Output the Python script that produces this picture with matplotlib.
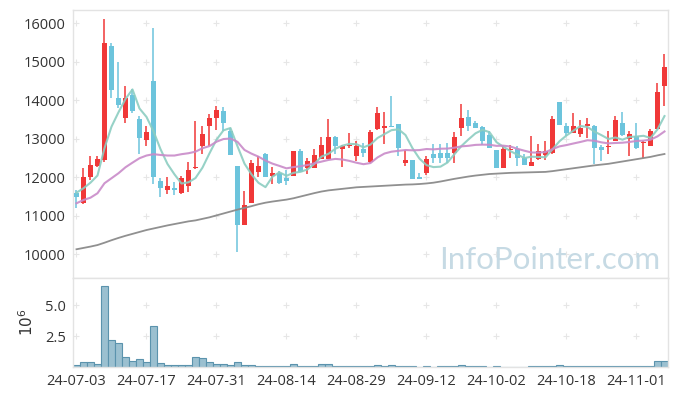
import matplotlib.pyplot as plt
import numpy as np
import pandas as pd

# x axis labels, one every 10 trading days
tick_labels = ['24-07-03', '24-07-17', '24-07-31', '24-08-14', '24-08-29',
               '24-09-12', '24-10-02', '24-10-18', '24-11-01']
tick_step = 10

open_ = [11590, 11340, 12020, 12300, 12450, 15410, 14050, 13550, 14140, 13520,
         12970, 14500, 11900, 11660, 11700, 11590, 11780, 12230, 12820, 13320,
         13550, 13720, 13200, 12300, 10760, 11340, 12150, 12610, 12040, 12120,
         11990, 12040, 12690, 12230, 12250, 12480, 12480, 13050, 12730, 12800,
         12560, 12740, 12400, 13250, 13270, 13330, 13390, 12380, 12440, 12000,
         12100, 12610, 12620, 12620, 12620, 13290, 13570, 13410, 13310, 13100,
         12710, 12230, 12700, 12730, 12510, 12300, 12470, 12590, 12640, 13960,
         13320, 13160, 13120, 13340, 13330, 12790, 12780, 12930, 13400, 12990,
         13070, 12880, 12800, 13250, 14380]
high = [11670, 12230, 12560, 12560, 16100, 15500, 14990, 14380, 14300, 13580,
        13320, 15870, 11990, 12020, 11890, 12040, 12390, 13460, 13320, 13650,
        13850, 13820, 13270, 12300, 11650, 12450, 12560, 12620, 12280, 12170,
        12190, 12690, 12730, 12490, 12730, 13040, 13510, 13070, 12840, 13140,
        12930, 12880, 13230, 13820, 13690, 14120, 13390, 12710, 12450, 12120,
        12560, 12860, 12860, 12880, 13170, 13900, 13750, 13460, 13320, 13190,
        12710, 12800, 12840, 12800, 12600, 13060, 12860, 12930, 13580, 13960,
        13400, 13660, 13490, 13530, 13360, 12840, 13190, 13580, 13690, 13190,
        13400, 12940, 13250, 14460, 15200]
low = [11200, 11300, 11930, 12280, 12410, 14050, 13790, 13400, 13660, 12610,
       12800, 11830, 11480, 11560, 11540, 11570, 11630, 12210, 12610, 12810,
       13230, 13190, 12580, 10070, 10760, 11340, 12000, 12020, 11830, 11830,
       11800, 12040, 12130, 12090, 12250, 12480, 12480, 12610, 12280, 12770,
       12430, 12520, 12380, 13230, 12870, 13300, 12560, 12300, 11960, 11960,
       12050, 12380, 12380, 12380, 12360, 13060, 13190, 13280, 12840, 12750,
       12230, 12230, 12490, 12300, 12320, 12300, 12450, 12450, 12610, 13370,
       13060, 13160, 13040, 13010, 12350, 12430, 12600, 12930, 13070, 12540,
       12740, 12490, 12800, 13250, 13840]
close = [11480, 12010, 12320, 12470, 15500, 14270, 13880, 14050, 13710, 13030,
         13170, 12020, 11730, 11780, 11680, 11980, 12180, 12280, 13130, 13540,
         13750, 13400, 12580, 10760, 11280, 12360, 12300, 12020, 12120, 11840,
         11910, 12690, 12150, 12430, 12580, 12840, 13050, 12820, 12820, 12810,
         12800, 12640, 13180, 13670, 13320, 13310, 12750, 12440, 11960, 11960,
         12470, 12490, 12500, 12500, 13050, 13530, 13340, 13290, 12950, 12750,
         12230, 12730, 12730, 12490, 12320, 12410, 12690, 12690, 13520, 13370,
         13160, 13320, 13290, 13390, 12770, 12700, 12820, 13490, 13100, 13130,
         12750, 12920, 13200, 14220, 14860]
# volume in millions of shares
volume = [0.16, 0.40, 0.40, 0.24, 6.53, 2.18, 1.94, 0.78, 0.48, 0.62,
          0.40, 3.28, 0.30, 0.13, 0.13, 0.13, 0.13, 0.78, 0.70, 0.40,
          0.22, 0.22, 0.13, 0.40, 0.13, 0.13, 0.06, 0.06, 0.06, 0.06,
          0.06, 0.24, 0.06, 0.06, 0.06, 0.22, 0.22, 0.10, 0.05, 0.05,
          0.05, 0.05, 0.10, 0.20, 0.10, 0.20, 0.05, 0.05, 0.10, 0.01,
          0.05, 0.01, 0.05, 0.05, 0.05, 0.20, 0.05, 0.05, 0.05, 0.01,
          0.05, 0.01, 0.01, 0.01, 0.01, 0.05, 0.05, 0.05, 0.10, 0.20,
          0.05, 0.05, 0.05, 0.05, 0.10, 0.05, 0.05, 0.10, 0.05, 0.05,
          0.05, 0.05, 0.05, 0.48, 0.48]
# moving-average values before enough closes are in the window
ma5_head = [11600, 11715, 11860, 12045]
ma20_head = [11325, 11410, 11470, 11585, 11845, 11975, 12105, 12260, 12380, 12495,
             12565, 12600, 12580, 12565, 12565, 12600, 12625, 12665, 12755]
# long moving average (needs history before the window)
ma_long = [10130, 10165, 10200, 10240, 10300, 10365, 10425, 10480, 10530, 10580,
           10630, 10670, 10710, 10750, 10785, 10820, 10855, 10880, 10920, 10960,
           11010, 11060, 11110, 11160, 11205, 11250, 11300, 11340, 11370, 11395,
           11420, 11455, 11500, 11545, 11590, 11630, 11660, 11680, 11700, 11720,
           11740, 11750, 11760, 11770, 11780, 11790, 11800, 11810, 11815, 11825,
           11840, 11860, 11890, 11925, 11960, 11990, 12020, 12045, 12065, 12085,
           12095, 12105, 12115, 12120, 12125, 12130, 12135, 12140, 12160, 12185,
           12210, 12235, 12260, 12285, 12310, 12330, 12350, 12380, 12410, 12440,
           12470, 12500, 12530, 12570, 12605]

o = np.array(open_, float)
h = np.array(high, float)
l = np.array(low, float)
c = np.array(close, float)
x = np.arange(len(c))

cs = pd.Series(c)
ma5 = cs.rolling(5).mean().to_numpy()
ma5[:len(ma5_head)] = ma5_head
ma20 = cs.rolling(20).mean().to_numpy()
ma20[:len(ma20_head)] = ma20_head

red = '#f03838'
blue = '#6cc4dc'
cols = np.where(c >= o, red, blue)

plt.rcParams['font.family'] = ['Open Sans', 'DejaVu Sans']
fig = plt.figure(figsize=(6.77, 3.96), dpi=100)
ax = fig.add_axes([0.1078, 0.298, 0.8789, 0.6767])
axv = fig.add_axes([0.1078, 0.0732, 0.8789, 0.2248], sharex=ax)

ax.vlines(x, l, h, colors=cols, lw=1.1, zorder=3)
body = np.maximum(np.abs(c - o), 30)
ax.bar(x, body, bottom=np.minimum(o, c), width=0.68, color=cols, zorder=3)

ax.plot(x, ma5, color='#8ccdc1', lw=1.5, alpha=0.9, zorder=4)
ax.plot(x, ma20, color='#c98bc9', lw=1.5, alpha=0.9, zorder=4)
ax.plot(x, ma_long, color='#8a8a8a', lw=1.3, alpha=0.95, zorder=4)

axv.bar(x, volume, width=1.0, color='#9bc0d0', edgecolor='#5b93ad', lw=0.8)

xt = np.arange(0, len(c), tick_step)
yt = np.arange(10000, 16001, 1000)
vt = [2.5, 5.0]

ax.set_xlim(-0.5, len(c) - 0.5)
ax.set_ylim(9384, 16345)
axv.set_ylim(0, 7.18)

ax.set_yticks(yt)
ax.set_yticklabels([str(v) for v in yt])
axv.set_yticks(vt)
axv.set_yticklabels(['2.5', '5.0'])
axv.set_xticks(xt)
axv.set_xticklabels(tick_labels)
ax.tick_params(axis='x', labelbottom=False)
axv.set_ylabel(r'$10^6$', fontsize=11, color='#333333', labelpad=6)

gx, gy = np.meshgrid(xt, yt)
ax.plot(gx.ravel(), gy.ravel(), '+', color='#e6e6e6', ms=5, mew=0.8, zorder=1)
gx, gy = np.meshgrid(xt, vt)
axv.plot(gx.ravel(), gy.ravel(), '+', color='#e6e6e6', ms=5, mew=0.8, zorder=1)

for a in (ax, axv):
    a.tick_params(length=0, labelsize=10.5, colors='#333333', pad=5)
    for s in a.spines.values():
        s.set_color('#e3e3e3')
        s.set_linewidth(1.0)

ax.text(0.987, 0.035, 'InfoPointer.com', transform=ax.transAxes, ha='right',
        va='baseline', fontsize=22.5, color='#c6dae4', zorder=2,
        family=['Lato', 'DejaVu Sans'])

fig.savefig('out.png', dpi=100, facecolor='white')
